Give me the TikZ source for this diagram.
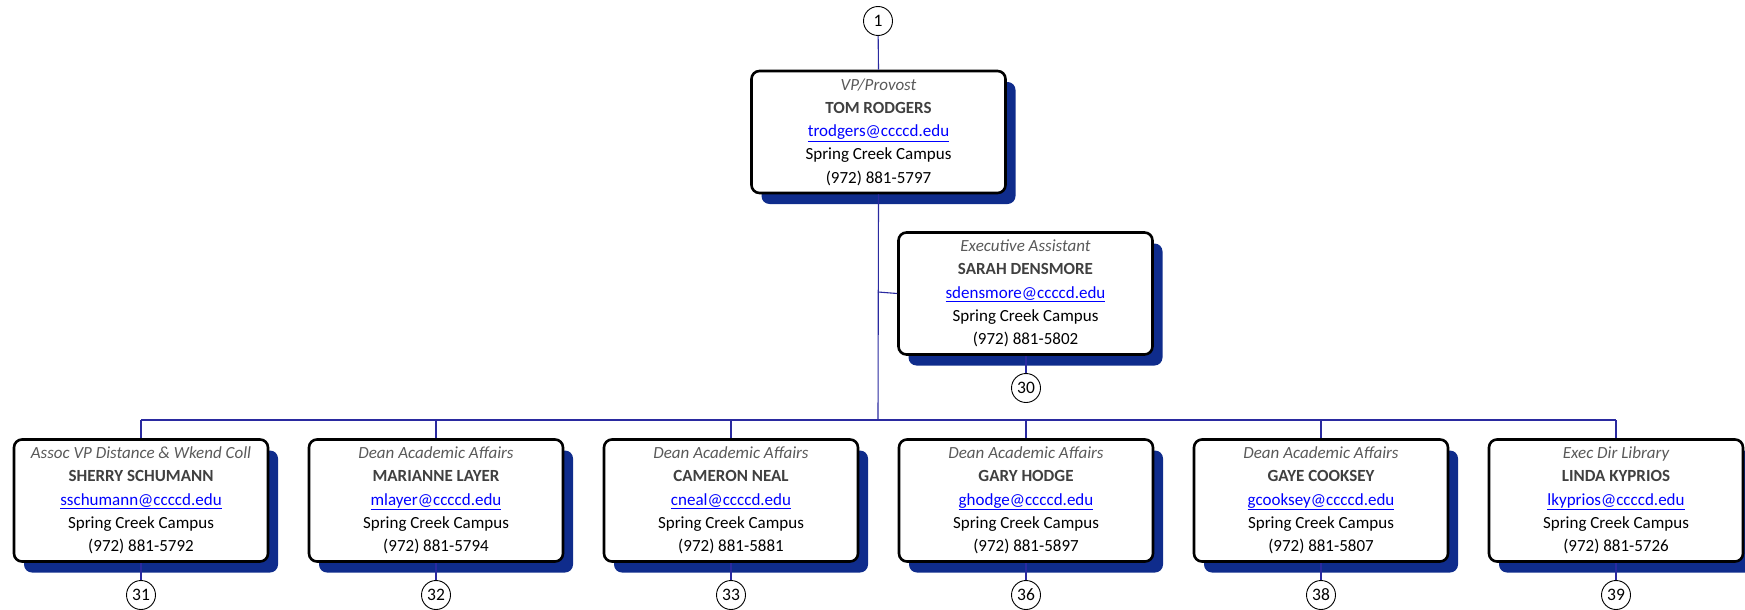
\documentclass[tikz,border=0pt]{standalone}
\usepackage{fontspec}
\setmainfont{Carlito}
\usetikzlibrary{shadows}
\definecolor{shadowblue}{HTML}{0F2C8C}
\definecolor{linkblue}{HTML}{0000FF}
\definecolor{linecol}{HTML}{2A2AA0}
\definecolor{titlegray}{HTML}{595959}
\definecolor{namegray}{HTML}{404040}
\newcommand{\card}[5]{{\color{titlegray}\itshape #1}\\{\color{namegray}\bfseries #2}\\{\color{linkblue}\underline{#3}}\\#4\\#5}
\tikzset{
  person/.style={rectangle, rounded corners=8pt, draw=black, line width=2.6pt, fill=white,
    minimum width=254pt, minimum height=122pt, inner sep=0pt, align=center,
    font=\fontsize{17}{23.3}\selectfont,
    general shadow={fill=shadowblue, shadow xshift=10pt, shadow yshift=-11pt}},
  num/.style={circle, draw=black, line width=0.9pt, fill=white, minimum size=29pt, inner sep=0pt,
    font=\fontsize{17.5}{18}\selectfont},
  conn/.style={draw=linecol, line width=1.1pt}
}
\begin{document}
\begin{tikzpicture}[x=1pt,y=-1pt]
\useasboundingbox (0,0) rectangle (1745,610);
% nodes
\node[num] (c1) at (878,21) {1};
\node[person] (top) at (878.5,132) {\card{VP/Provost}{TOM RODGERS}{trodgers@ccccd.edu}{Spring Creek Campus}{(972) 881-5797}};
\node[person] (ea) at (1025.5,293.5) {\card{Executive Assistant}{SARAH DENSMORE}{sdensmore@ccccd.edu}{Spring Creek Campus}{(972) 881-5802}};
\node[num] (c30) at (1026,388) {30};
\coordinate (bar) at (878,420);
\coordinate (eaj) at (878,292);
\foreach \i/\x/\t/\n/\e/\p/\c in {
  1/141/Assoc VP Distance \& Wkend Coll/SHERRY SCHUMANN/sschumann@ccccd.edu/5792/31,
  2/436/Dean Academic Affairs/MARIANNE LAYER/mlayer@ccccd.edu/5794/32,
  3/731/Dean Academic Affairs/CAMERON NEAL/cneal@ccccd.edu/5881/33,
  4/1026/Dean Academic Affairs/GARY HODGE/ghodge@ccccd.edu/5897/36,
  5/1321/Dean Academic Affairs/GAYE COOKSEY/gcooksey@ccccd.edu/5807/38,
  6/1616/Exec Dir Library/LINDA KYPRIOS/lkyprios@ccccd.edu/5726/39}{
  \node[person] (b\i) at (\x,500.5) {\card{\t}{\n}{\e}{Spring Creek Campus}{(972) 881-\p}};
  \node[num] (n\i) at (\x,595) {\c};
  \coordinate (d\i) at (\x,420);
}
% connectors
\draw[conn] (c1) -- (top.north);
\draw[conn] (top.south) -- (bar);
\draw[conn] (eaj) -- (ea.west);
\draw[conn] (ea.south -| c30) -- (c30);
\draw[conn] (d1) -- (d6);
\foreach \i in {1,...,6}{
  \draw[conn] (d\i) -- (b\i.north);
  \draw[conn] (b\i.south) -- (n\i);
}
\end{tikzpicture}
\end{document}
